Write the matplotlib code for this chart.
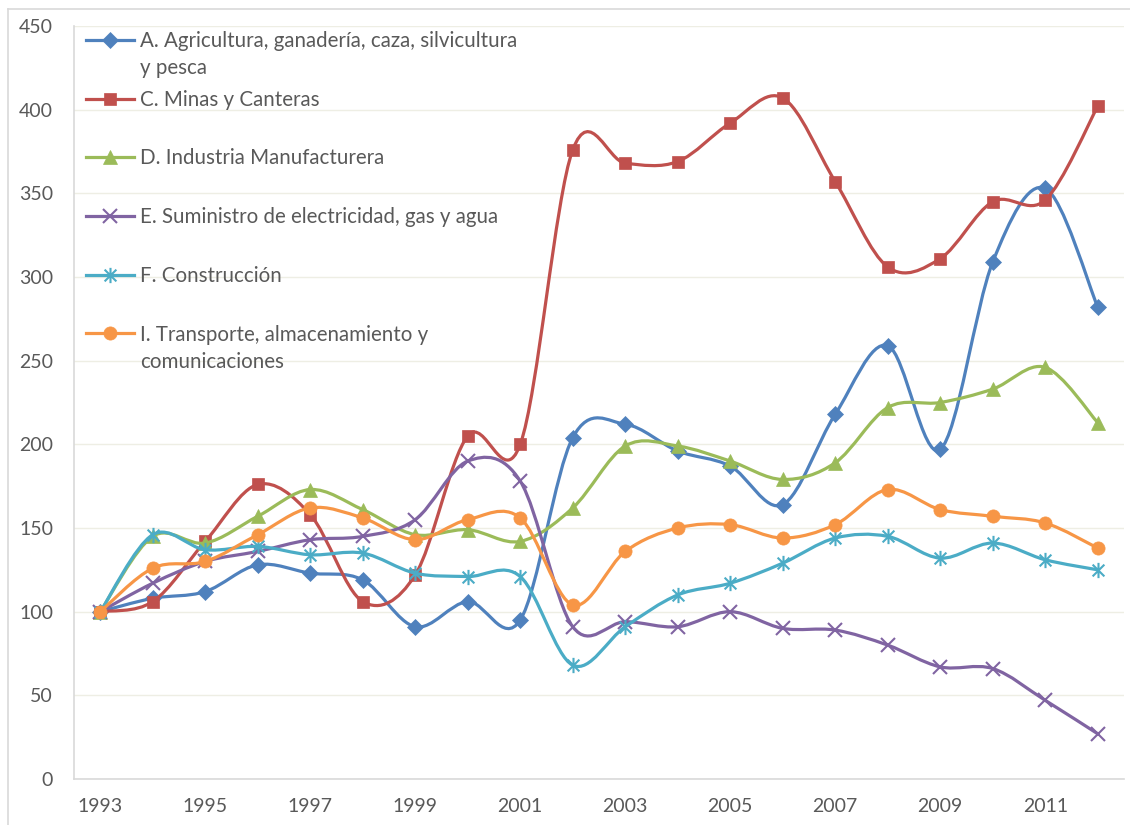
import matplotlib
matplotlib.use("Agg")
import matplotlib.pyplot as plt
import numpy as np
from matplotlib.path import Path
from matplotlib.patches import PathPatch
from matplotlib.lines import Line2D

years = list(range(1993, 2013))
agri = [100, 108, 112, 128, 123, 119, 91, 106, 95, 204, 212, 196, 187, 164, 218, 259, 197, 309, 353, 282]
minas = [100, 106, 142, 176, 158, 106, 122, 205, 200, 376, 368, 369, 392, 407, 357, 306, 311, 345, 346, 402]
industria = [100, 145, 141, 157, 173, 161, 146, 149, 142, 162, 199, 199, 190, 179, 189, 222, 225, 233, 246, 213]
electricidad = [100, 117, 130, 136, 143, 145, 155, 190, 178, 91, 94, 91, 100, 90, 89, 80, 67, 66, 47, 27]
construccion = [100, 146, 137, 139, 134, 135, 123, 121, 121, 68, 91, 110, 117, 129, 144, 145, 132, 141, 131, 125]
transporte = [100, 126, 130, 146, 162, 156, 143, 155, 156, 104, 136, 150, 152, 144, 152, 173, 161, 157, 153, 138]

labels = [
    "A. Agricultura, ganadería, caza, silvicultura\ny pesca",
    "C. Minas y Canteras",
    "D. Industria Manufacturera",
    "E. Suministro de electricidad, gas y agua",
    "F. Construcción",
    "I. Transporte, almacenamiento y\ncomunicaciones",
]
yticks = [0, 50, 100, 150, 200, 250, 300, 350, 400, 450]
xticks = list(range(1993, 2013, 2))

series = [agri, minas, industria, electricidad, construccion, transporte]
colors = ["#4F81BD", "#C0504D", "#9BBB59", "#8064A2", "#4BACC6", "#F79646"]

# asterisk marker: X plus vertical bar
ast = Path([(-1, -1), (1, 1), (-1, 1), (1, -1), (0, -1.3), (0, 1.3)],
           [Path.MOVETO, Path.LINETO, Path.MOVETO, Path.LINETO, Path.MOVETO, Path.LINETO])
markers = [
    dict(marker="D", markersize=8.5, markeredgewidth=0.5),
    dict(marker="s", markersize=9, markeredgewidth=0.5),
    dict(marker="^", markersize=10, markeredgewidth=0.5),
    dict(marker="x", markersize=10, markeredgewidth=1.5, fillstyle="none"),
    dict(marker=ast, markersize=11, markeredgewidth=1.5, fillstyle="none"),
    dict(marker="o", markersize=9.5, markeredgewidth=0.5),
]

plt.rcParams["font.family"] = ["Lato", "DejaVu Sans"]
fig = plt.figure(figsize=(11.3, 8.25), dpi=100)
W, H = 1130, 825
L, R, B, T = 74, 1124, 779, 26
ax = fig.add_axes([L / W, 1 - B / H, (R - L) / W, (B - T) / H])
ax.set_xlim(1992.5, 2012.5)
ax.set_ylim(0, 450)


def smooth_path(xs, ys):
    pts = np.column_stack([xs, ys]).astype(float)
    n = len(pts)
    verts = [pts[0]]
    codes = [Path.MOVETO]
    for i in range(n - 1):
        p0 = pts[i - 1] if i > 0 else pts[i]
        p1 = pts[i]
        p2 = pts[i + 1]
        p3 = pts[i + 2] if i + 2 < n else pts[i + 1]
        c1 = p1 + (p2 - p0) / 6.0
        c2 = p2 - (p3 - p1) / 6.0
        verts += [c1, c2, p2]
        codes += [Path.CURVE4] * 3
    return Path(verts, codes)


for k, (vals, col, mk) in enumerate(zip(series, colors, markers)):
    patch = PathPatch(smooth_path(years, vals), fill=False, edgecolor=col,
                      linewidth=2.3, zorder=2 + k, capstyle="round", joinstyle="round")
    ax.add_patch(patch)
    ax.plot(years, vals, linestyle="none", color=col, markerfacecolor=col,
            markeredgecolor=col, zorder=2.5 + k, **mk)

ax.set_yticks(yticks)
ax.set_xticks(xticks)
ax.set_xticklabels([str(x) for x in xticks])
ax.tick_params(axis="both", length=0, labelsize=14, labelcolor="#595959")
ax.tick_params(axis="y", pad=15)
ax.tick_params(axis="x", pad=14)
for s in ["top", "right"]:
    ax.spines[s].set_visible(False)
for s in ["left", "bottom"]:
    ax.spines[s].set_color("#D9D9D9")
    ax.spines[s].set_linewidth(1.2)
ax.yaxis.grid(True, color="#EEEEE4", linewidth=1.0)
ax.set_axisbelow(True)

# legend (Excel style: fixed pitch between entries)
entry_y = [39.5, 98.5, 157, 215.5, 274.5, 333]
hx0, hx1, hxm, tx = 86, 134, 110, 140
line_px = 27.3
for lab, col, mk, py in zip(labels, colors, markers, entry_y):
    nlines = lab.count("\n") + 1
    ya = (B - py) / (B - T)
    yb = (B - py - 7.5 - line_px * (nlines - 1)) / (B - T)
    ax.add_line(Line2D([(hx0 - L) / (R - L), (hx1 - L) / (R - L)], [ya, ya],
                       transform=ax.transAxes, color=col, linewidth=2.3, clip_on=False))
    ax.add_line(Line2D([(hxm - L) / (R - L)], [ya], transform=ax.transAxes,
                       linestyle="none", color=col, markerfacecolor=col,
                       markeredgecolor=col, clip_on=False, **mk))
    ax.text((tx - L) / (R - L), yb, lab, transform=ax.transAxes, fontsize=14.8,
            color="#595959", va="baseline", ha="left", linespacing=1.45)

# outer chart border (left and top)
fig.add_artist(Line2D([8 / W, 8 / W], [0, 1 - 9 / H], color="#D9D9D9", linewidth=1.2))
fig.add_artist(Line2D([8 / W, 1], [1 - 9 / H, 1 - 9 / H], color="#D9D9D9", linewidth=1.2))

fig.savefig("out.png", dpi=100)
